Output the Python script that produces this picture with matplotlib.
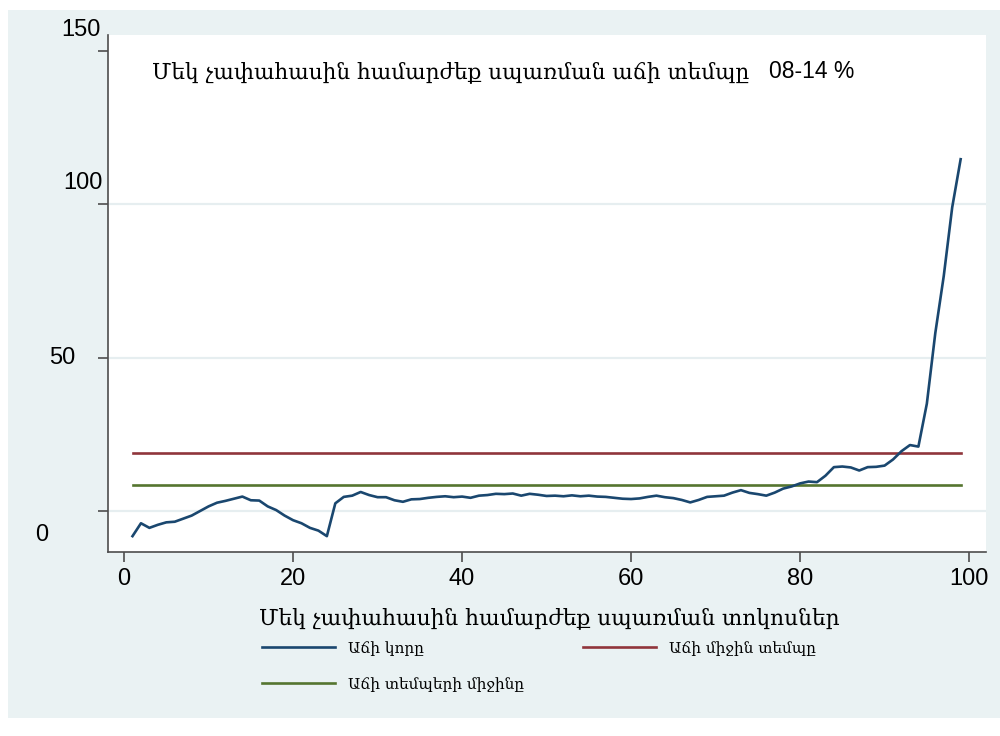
import matplotlib
matplotlib.use("Agg")
import matplotlib.pyplot as plt
from matplotlib import transforms
from matplotlib.patches import Rectangle

# percentiles of per-adult-equivalent consumption
pct = list(range(1, 100))
growth_curve = [-8.2, -4.0, -5.5, -4.5, -3.7, -3.5, -2.5, -1.5, 0.0, 1.5,
                2.7, 3.3, 4.0, 4.7, 3.5, 3.4, 1.5, 0.3, -1.5, -3.0,
                -4.0, -5.5, -6.4, -8.2, 2.5, 4.6, 5.0, 6.2, 5.2, 4.5,
                4.5, 3.5, 3.0, 3.8, 3.9, 4.3, 4.6, 4.8, 4.5, 4.7,
                4.3, 5.0, 5.2, 5.6, 5.5, 5.7, 5.0, 5.6, 5.3, 4.9,
                5.0, 4.8, 5.1, 4.8, 5.0, 4.7, 4.6, 4.3, 4.0, 3.9,
                4.1, 4.6, 5.0, 4.5, 4.2, 3.6, 2.8, 3.6, 4.6, 4.8,
                5.0, 6.0, 6.8, 5.9, 5.5, 5.0, 6.0, 7.3, 8.0, 9.0,
                9.6, 9.4, 11.5, 14.3, 14.5, 14.2, 13.2, 14.3, 14.4, 14.8,
                16.8, 19.5, 21.5, 21.0, 35.0, 58.0, 76.6, 99.0, 114.7]
mean_growth_rate = 19.0
average_of_rates = 8.5

title_hy = "Մեկ չափահասին համարժեք սպառման աճի տեմպը"
title_num = "08-14 %"
xlabel_hy = "Մեկ չափահասին համարժեք սպառման տոկոսներ"
legend_labels = ["Աճի կորը", "Աճի տեմպերի միջինը", "Աճի միջին տեմպը"]
yticks = [0, 50, 100, 150]
xticks = [0, 20, 40, 60, 80, 100]

hy_font = ["DejaVu Serif", "DejaVu Sans"]
num_font = ["Liberation Sans", "DejaVu Sans"]

bg = "#eaf2f3"
navy = "#1a476f"
maroon = "#90353b"
green = "#55752f"
axcol = "#4d4d4d"

fig = plt.figure(figsize=(10, 7.36), dpi=100, facecolor="white")
fig.add_artist(Rectangle((0.008, 1 - 718 / 736), 0.992, 708 / 736,
                         transform=fig.transFigure, facecolor=bg,
                         edgecolor="none", zorder=-10))

ax = fig.add_axes([0.108, 1 - 552 / 736, 0.878, 517 / 736])
ax.set_facecolor("white")

l1, = ax.plot(pct, growth_curve, color=navy, lw=1.9, zorder=3,
              solid_joinstyle="round")
l3, = ax.plot([pct[0], pct[-1]], [mean_growth_rate] * 2, color=maroon, lw=1.9, zorder=2)
l2, = ax.plot([pct[0], pct[-1]], [average_of_rates] * 2, color=green, lw=1.9, zorder=2)

for v in [0, 50, 100]:
    ax.axhline(v, color="#e6eef0", lw=1.6, zorder=1)

ax.set_xlim(-1.9, 102.0)
ax.set_ylim(-13.37, 155.2)

for s in ["top", "right"]:
    ax.spines[s].set_visible(False)
for s in ["left", "bottom"]:
    ax.spines[s].set_color(axcol)
    ax.spines[s].set_linewidth(1.2)

ax.set_xticks(xticks)
ax.set_xticklabels([str(t) for t in xticks], fontsize=17, family=num_font)
ax.set_yticks(yticks)
ax.set_yticklabels([])
ax.tick_params(axis="both", direction="out", length=7.2, width=1.2, color=axcol)
ax.tick_params(axis="x", pad=4)

# odd Stata-style placement of the y labels
ylab_pos = [(41.5, 24, "center"), (62.5, 0, "center"), (103, -21, "right"), (101, -21, "right")]
for v, (px, dy, ha) in zip(yticks, ylab_pos):
    tr = transforms.blended_transform_factory(fig.transFigure, ax.transData)
    tr = transforms.offset_copy(tr, fig=fig, x=0, y=-dy, units="dots")
    ax.text(px / 1000, v, str(v), transform=tr, ha=ha, va="center",
            fontsize=17, family=num_font, clip_on=False)

fig.text(0.152, 1 - 72 / 736, title_hy, family=hy_font, fontsize=15.6,
         va="center", ha="left")
fig.text(0.769, 1 - 72 / 736, title_num, family=num_font, fontsize=16.5,
         va="center", ha="left")

fig.text(0.549, 1 - 618 / 736, xlabel_hy, family=hy_font, fontsize=15.7,
         va="center", ha="center")

fig.legend([l1, l2, l3], legend_labels, loc="upper left",
           bbox_to_anchor=(0.248, 1 - 627 / 736), ncol=2, frameon=False,
           prop={"family": hy_font, "size": 11}, handlelength=4.8,
           handletextpad=0.85, labelspacing=1.4, columnspacing=3.85)

fig.savefig("out.png", dpi=100, facecolor="white")
